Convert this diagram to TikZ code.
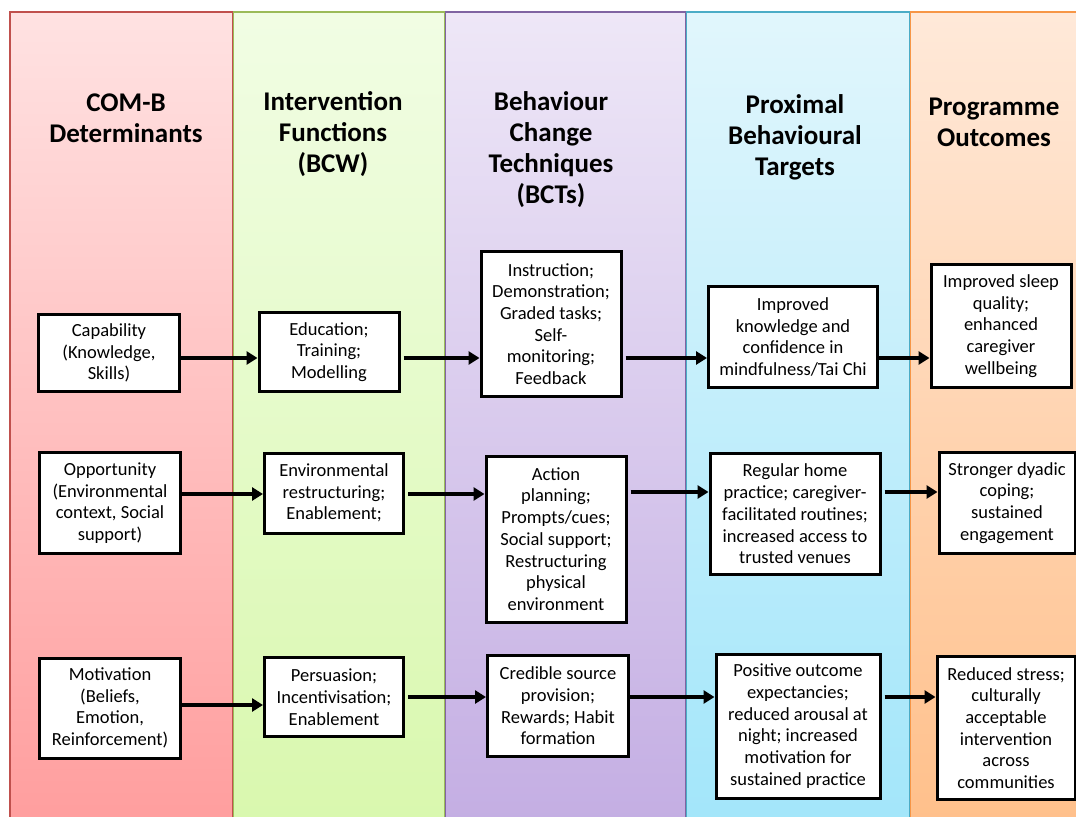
\documentclass[tikz,border=0pt]{standalone}
\usepackage{fontspec}
\setmainfont{Carlito}
\usetikzlibrary{arrows.meta}
\definecolor{redT}{HTML}{FFE2E2}\definecolor{redB}{HTML}{FF9E9E}\definecolor{redL}{HTML}{C0504D}
\definecolor{grnT}{HTML}{F1FDE4}\definecolor{grnB}{HTML}{D9F8AE}\definecolor{grnL}{HTML}{9BBB59}
\definecolor{purT}{HTML}{EEE7F7}\definecolor{purB}{HTML}{C4AEE3}\definecolor{purL}{HTML}{8064A2}
\definecolor{bluT}{HTML}{E1F6FC}\definecolor{bluB}{HTML}{A3E6FA}\definecolor{bluL}{HTML}{4BACC6}
\definecolor{orgT}{HTML}{FFE9D9}\definecolor{orgB}{HTML}{FFC08B}\definecolor{orgL}{HTML}{F79646}
\tikzset{
  col/.style={line width=1.2bp},
  hdr/.style={align=center, font=\fontsize{27bp}{31bp}\selectfont\bfseries, inner sep=0pt},
  bx/.style={draw=black, fill=white, line width=3bp, align=center, inner sep=0pt,
     font=\fontsize{18.5bp}{21.7bp}\selectfont},
  arr/.style={line width=3.2bp, -{Triangle[length=11bp,width=13bp]}},
}
\begin{document}
\begin{tikzpicture}[x=1bp,y=-1bp]
\useasboundingbox[fill=white] (0,0) rectangle (1076,817);
% columns
\shade[top color=redT, bottom color=redB] (10,12) rectangle (233,822);
\draw[col, redL] (10,822) -- (10,12) -- (233,12) -- (233,822);
\shade[top color=grnT, bottom color=grnB] (233,12) rectangle (445,822);
\draw[col, grnL] (233.8,822) -- (233.8,12) -- (445,12) -- (445,822);
\shade[top color=purT, bottom color=purB] (445,12) rectangle (686,822);
\draw[col, purL] (445.8,822) -- (445.8,12) -- (686,12) -- (686,822);
\shade[top color=bluT, bottom color=bluB] (686,12) rectangle (910,822);
\draw[col, bluL] (686.8,822) -- (686.8,12) -- (910,12) -- (910,822);
\shade[top color=orgT, bottom color=orgB] (910,12) rectangle (1082,822);
\draw[col, orgL] (910.8,822) -- (910.8,12) -- (1082,12);
% headers
\node[hdr] (h1) at (126,118) {COM-B\\Determinants};
\node[hdr] (h2) at (333,134) {Intervention\\Functions\\(BCW)};
\node[hdr] (h3) at (551,150) {Behaviour\\Change\\Techniques\\(BCTs)};
\node[hdr] (h4) at (795,137) {Proximal\\Behavioural\\Targets};
\node[hdr] (h5) at (994,122) {Programme\\Outcomes};
% boxes
\node[bx, minimum width=140bp, minimum height=77bp] (cap) at (109,353) {Capability\\(Knowledge,\\Skills)};
\node[bx, minimum width=141bp, minimum height=101bp] (opp) at (110,503) {Opportunity\\(Environmental\\context, Social\\support)};
\node[bx, minimum width=141bp, minimum height=100bp] (mot) at (110,708) {Motivation\\(Beliefs,\\Emotion,\\Reinforcement)};
\node[bx, minimum width=140bp, minimum height=79bp] (edu) at (329,352) {Education;\\Training;\\Modelling};
\node[bx, minimum width=139bp, minimum height=80bp] (env) at (334,493) {Environmental\\restructuring;\\Enablement;};
\node[bx, minimum width=139bp, minimum height=79bp] (per) at (334,697) {Persuasion;\\Incentivisation;\\Enablement};
\node[bx, minimum width=140bp, minimum height=145bp] (ins) at (551,324) {Instruction;\\Demonstration;\\Graded tasks;\\Self-\\monitoring;\\Feedback};
\node[bx, minimum width=140bp, minimum height=166bp] (act) at (556,539) {Action\\planning;\\Prompts/cues;\\Social support;\\Restructuring\\physical\\environment};
\node[bx, minimum width=141bp, minimum height=101bp] (cre) at (558,706) {Credible source\\provision;\\Rewards; Habit\\formation};
\node[bx, minimum width=169bp, minimum height=101bp] (imp) at (793,337) {Improved\\knowledge and\\confidence in\\mindfulness/Tai Chi};
\node[bx, minimum width=170bp, minimum height=121bp] (reg) at (795,514) {Regular home\\practice; caregiver-\\facilitated routines;\\increased access to\\trusted venues};
\node[bx, minimum width=164bp, minimum height=144bp] (pos) at (798,726) {Positive outcome\\expectancies;\\reduced arousal at\\night; increased\\motivation for\\sustained practice};
\node[bx, minimum width=140bp, minimum height=123bp] (slp) at (1001,326) {Improved sleep\\quality;\\enhanced\\caregiver\\wellbeing};
\node[bx, minimum width=136bp, minimum height=101bp] (str) at (1007,503) {Stronger dyadic\\coping;\\sustained\\engagement};
\node[bx, minimum width=138bp, minimum height=143bp] (red) at (1006,728) {Reduced stress;\\culturally\\acceptable\\intervention\\across\\communities};
% row levels
\coordinate (r1) at (0,358);
\coordinate (r2) at (0,494);
\coordinate (r2b) at (0,492);
\coordinate (r3) at (0,705);
\coordinate (r3b) at (0,697);
% arrows
\draw[arr] (cap.east |- r1) -- (edu.west |- r1);
\draw[arr, shorten <=3bp] (edu.east |- r1) -- (ins.west |- r1);
\draw[arr, shorten <=3bp] (ins.east |- r1) -- (imp.west |- r1);
\draw[arr] (imp.east |- r1) -- (slp.west |- r1);
\draw[arr] (opp.east |- r2) -- (env.west |- r2);
\draw[arr, shorten <=3bp] (env.east |- r2) -- (act.west |- r2);
\draw[arr, shorten <=3bp] (act.east |- r2b) -- (reg.west |- r2b);
\draw[arr, shorten <=3bp] (reg.east |- r2b) -- (str.west |- r2b);
\draw[arr] (mot.east |- r3) -- (per.west |- r3);
\draw[arr, shorten <=3bp] (per.east |- r3b) -- (cre.west |- r3b);
\draw[arr] (cre.east |- r3b) -- (pos.west |- r3b);
\draw[arr, shorten <=3bp] (pos.east |- r3b) -- (red.west |- r3b);
\end{tikzpicture}
\end{document}
